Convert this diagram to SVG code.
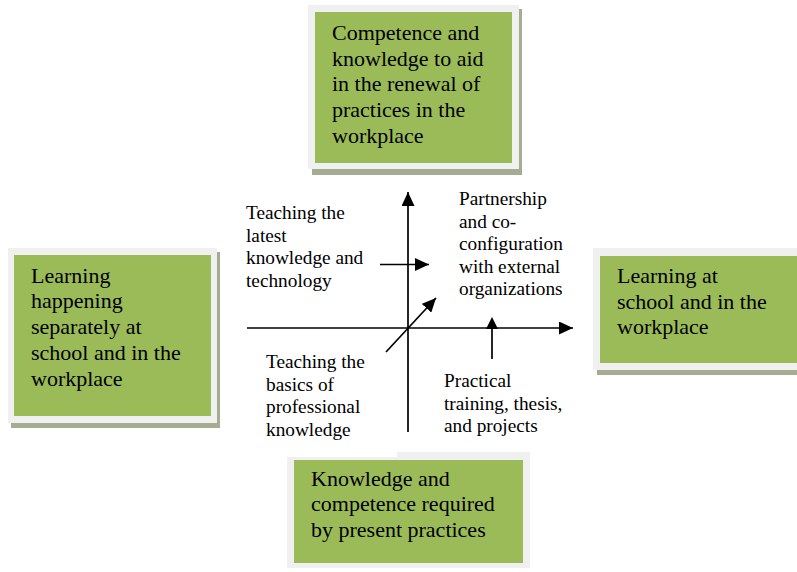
<svg xmlns="http://www.w3.org/2000/svg" width="797" height="572" viewBox="0 0 797 572">
  <defs>
    <marker id="head" viewBox="0 0 14 13" refX="14" refY="6.5" markerWidth="14" markerHeight="13" markerUnits="userSpaceOnUse" orient="auto">
      <path d="M0,0 L14,6.5 L0,13 Z" fill="#000"/>
    </marker>
  </defs>
  <style>
    .shadow { fill: #a4ad91; }
    .frame { fill: #f0f0f0; }
    .card { fill: #9bbb59; }
    text { font-family: 'Liberation Serif', 'Times New Roman', Times, serif; fill: #000; }
    .box-text { font-size: 22px; }
    .label { font-size: 19.3px; }
    .axis { stroke: #000; stroke-width: 1.7; fill: none; marker-end: url(#head); }
    .plain { stroke: #000; stroke-width: 1.7; fill: none; }
  </style>
  <rect width="797" height="572" fill="#fff"/>

  <!-- top card -->
  <g id="node-top">
    <rect class="shadow" x="312" y="9" width="210" height="166"/>
    <rect class="frame" x="308" y="5" width="211" height="164"/>
    <rect class="card" x="315" y="12" width="197" height="151"/>
    <text class="box-text" font-family="Liberation Serif, serif">
      <tspan x="332" y="40">Competence and</tspan>
      <tspan x="332" y="65.7">knowledge to aid</tspan>
      <tspan x="332" y="91.4">in the renewal of</tspan>
      <tspan x="332" y="117.1">practices in the</tspan>
      <tspan x="332" y="142.8">workplace</tspan>
    </text>
  </g>

  <!-- left card -->
  <g id="node-left">
    <rect class="shadow" x="11" y="252" width="209" height="176"/>
    <rect class="frame" x="8" y="248" width="209" height="175"/>
    <rect class="card" x="14" y="255" width="197" height="161"/>
    <text class="box-text" font-family="Liberation Serif, serif">
      <tspan x="31" y="282.7">Learning</tspan>
      <tspan x="31" y="308.4">happening</tspan>
      <tspan x="31" y="334.1">separately at</tspan>
      <tspan x="31" y="359.8">school and in the</tspan>
      <tspan x="31" y="385.5">workplace</tspan>
    </text>
  </g>

  <!-- right card -->
  <g id="node-right">
    <rect class="shadow" x="597" y="252" width="200" height="123"/>
    <rect class="frame" x="593" y="248" width="204" height="122"/>
    <rect class="card" x="600" y="256" width="197" height="107"/>
    <text class="box-text" font-family="Liberation Serif, serif">
      <tspan x="617" y="283.3">Learning at</tspan>
      <tspan x="617" y="308.7">school and in the</tspan>
      <tspan x="617" y="334">workplace</tspan>
    </text>
  </g>

  <!-- bottom card -->
  <g id="node-bottom">
    <rect class="frame" x="287" y="457" width="243" height="111"/>
    <rect class="frame" x="397" y="452" width="133" height="8"/>
    <rect class="card" x="294" y="460" width="229" height="103"/>
    <text class="box-text" font-family="Liberation Serif, serif">
      <tspan x="311" y="485.5">Knowledge and</tspan>
      <tspan x="311" y="511.3">competence required</tspan>
      <tspan x="311" y="537">by present practices</tspan>
    </text>
  </g>

  <!-- axes and arrows -->
  <g id="connectors">
    <line class="axis" x1="247" y1="328" x2="573" y2="328"/>
    <line class="axis" x1="408" y1="432" x2="408" y2="192"/>
    <line class="axis" x1="380" y1="264.5" x2="429" y2="264.5"/>
    <line class="axis" x1="386" y1="352" x2="436" y2="298"/>
    <line class="plain" x1="492" y1="359" x2="492" y2="328"/>
    <path d="M486,329 L492,317 L498,329 Z" fill="#000"/>
  </g>

  <!-- quadrant labels -->
  <g id="label-latest">
    <text class="label" font-family="Liberation Serif, serif">
      <tspan x="246" y="219">Teaching the</tspan>
      <tspan x="246" y="241.5">latest</tspan>
      <tspan x="246" y="264">knowledge and</tspan>
      <tspan x="246" y="286.5">technology</tspan>
    </text>
  </g>
  <g id="label-partnership">
    <text class="label" font-family="Liberation Serif, serif">
      <tspan x="459" y="205">Partnership</tspan>
      <tspan x="459" y="227.5">and co-</tspan>
      <tspan x="459" y="250">configuration</tspan>
      <tspan x="459" y="272.5">with external</tspan>
      <tspan x="459" y="295">organizations</tspan>
    </text>
  </g>
  <g id="label-basics">
    <text class="label" font-family="Liberation Serif, serif">
      <tspan x="266" y="368">Teaching the</tspan>
      <tspan x="266" y="390.5">basics of</tspan>
      <tspan x="266" y="413">professional</tspan>
      <tspan x="266" y="435.5">knowledge</tspan>
    </text>
  </g>
  <g id="label-practical">
    <text class="label" font-family="Liberation Serif, serif">
      <tspan x="444" y="387">Practical</tspan>
      <tspan x="444" y="409.5">training, thesis,</tspan>
      <tspan x="444" y="432">and projects</tspan>
    </text>
  </g>
</svg>
